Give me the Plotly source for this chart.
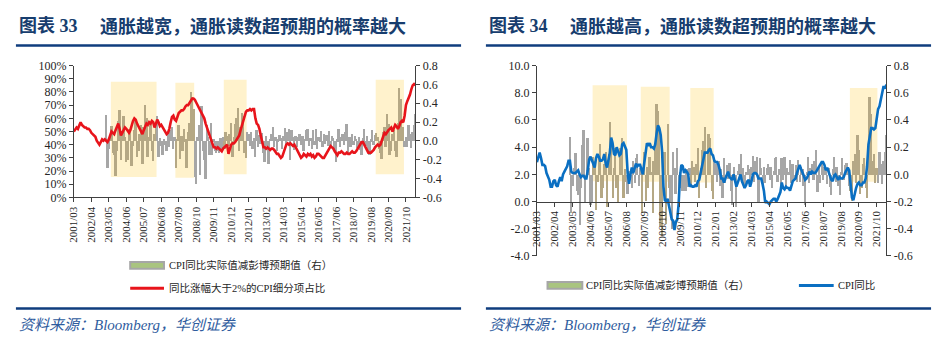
import plotly.graph_objects as go

W, H = 940, 352

# ---------------- categories ----------------
months = []
yy, mm = 2001, 3
for _ in range(255):
    months.append(f"{yy}/{mm:02d}")
    mm += 1
    if mm > 12:
        mm = 1
        yy += 1

tick_labels = ["2001/03", "2002/04", "2003/05", "2004/06", "2005/07", "2006/08", "2007/09",
               "2008/10", "2009/11", "2010/12", "2012/01", "2013/02", "2014/03", "2015/04",
               "2016/05", "2017/06", "2018/07", "2019/08", "2020/09", "2021/10"]

# ---------------- series ----------------
# share of CPI items with YoY > 2% (%), 2001/03 - 2022/05
red_share = [
    50, 52, 53, 52, 55, 57, 55, 54, 53, 53,                      # 2001 (Mar-Dec)
    52, 52, 51, 49, 48, 47, 46, 43, 41, 40, 42, 44,              # 2002
    43, 44, 43, 42, 44, 48, 50, 49, 48, 51, 54, 56,              # 2003
    52, 47, 49, 51, 53, 52, 50, 49, 51, 55, 58, 60,              # 2004
    59, 56, 54, 52, 49, 48, 51, 54, 56, 55, 57, 56,              # 2005
    58, 57, 53, 56, 59, 57, 54, 55, 53, 52, 50, 48,              # 2006
    49, 52, 57, 61, 62, 59, 58, 62, 64, 65, 66, 66,              # 2007
    67, 69, 70, 70, 72, 74, 75, 75, 74, 72, 70, 68,              # 2008
    66, 65, 63, 60, 56, 53, 49, 46, 43, 40, 38, 38,              # 2009
    37, 38, 37, 36, 35, 37, 38, 39, 40, 33, 37, 40,              # 2010
    41, 41, 42, 44, 45, 47, 51, 55, 58, 62, 65, 66,              # 2011
    66, 67, 66, 67, 67, 60, 56, 55, 52, 47, 42, 38,              # 2012
    38, 37, 38, 37, 36, 37, 37, 36, 34, 33, 33, 31,              # 2013
    30, 31, 34, 38, 40, 41, 40, 41, 40, 39, 40, 38,              # 2014
    36, 34, 31, 30, 31, 33, 32, 31, 33, 32, 33, 31,              # 2015
    32, 30, 31, 33, 33, 32, 31, 30, 30, 32, 34, 36,              # 2016
    38, 39, 38, 37, 35, 33, 32, 34, 34, 35, 34, 33,              # 2017
    33, 34, 33, 33, 34, 35, 34, 34, 35, 37, 38, 41,              # 2018
    42, 42, 40, 38, 35, 34, 34, 34, 35, 36, 38, 39,              # 2019
    40, 39, 40, 43, 47, 49, 48, 50, 51, 52, 53, 50,              # 2020
    52, 55, 54, 52, 54, 57, 58, 57, 62, 70, 73, 75,              # 2021
    78, 82, 85, 86, 85,                                          # 2022 (Jan-May)
]

# CPI YoY (%), 2001/03 - 2022/05
cpi_yoy = [
    2.9, 3.3, 3.6, 3.2, 2.7, 2.7, 2.6, 2.1, 1.9, 1.6,
    1.1, 1.1, 1.5, 1.6, 1.2, 1.1, 1.5, 1.8, 1.5, 2.0, 2.2, 2.4,
    2.6, 3.0, 3.0, 2.2, 2.1, 2.1, 2.1, 2.2, 2.3, 2.0, 1.8, 1.9,
    1.9, 1.7, 1.7, 2.3, 3.1, 3.3, 3.0, 2.7, 2.5, 3.2, 3.5, 3.3,
    3.0, 3.0, 3.1, 3.5, 2.8, 2.5, 3.2, 3.6, 4.7, 4.3, 3.5, 3.4,
    4.0, 3.6, 3.4, 3.5, 4.2, 4.3, 4.1, 3.8, 2.1, 1.3, 2.0, 2.5,
    2.1, 2.4, 2.8, 2.6, 2.7, 2.7, 2.4, 2.0, 2.8, 3.5, 4.3, 4.1,
    4.3, 4.0, 4.0, 3.9, 4.2, 5.0, 5.6, 5.4, 4.9, 3.7, 1.1, 0.1,
    0.0, 0.2, -0.4, -0.7, -1.3, -1.4, -2.1, -1.5, -1.3, -0.2, 1.8, 2.7,
    2.6, 2.1, 2.3, 2.2, 2.0, 1.1, 1.2, 1.1, 1.1, 1.2, 1.1, 1.5,
    1.6, 2.1, 2.7, 3.2, 3.6, 3.6, 3.6, 3.8, 3.9, 3.5, 3.4, 3.0,
    2.9, 2.9, 2.7, 2.3, 1.7, 1.7, 1.4, 1.7, 2.0, 2.2, 1.8, 1.7,
    1.6, 2.0, 1.5, 1.1, 1.4, 1.8, 2.0, 1.5, 1.2, 1.0, 1.2, 1.5,
    1.6, 1.1, 1.5, 2.0, 2.1, 2.1, 2.0, 1.7, 1.7, 1.7, 1.3, 0.8,
    -0.1, 0.0, -0.1, -0.2, 0.0, 0.1, 0.2, 0.2, 0.0, 0.2, 0.5, 0.7,
    1.4, 1.0, 0.9, 1.1, 1.0, 1.0, 0.8, 1.1, 1.5, 1.6, 1.7, 2.1,
    2.5, 2.7, 2.4, 2.2, 1.9, 1.6, 1.7, 1.9, 2.2, 2.0, 2.2, 2.1,
    2.1, 2.2, 2.4, 2.5, 2.8, 2.9, 2.9, 2.7, 2.3, 2.5, 2.2, 1.9,
    1.6, 1.5, 1.9, 2.0, 1.8, 1.6, 1.8, 1.7, 1.7, 1.8, 2.1, 2.3,
    2.5, 2.3, 1.5, 0.3, 0.1, 0.6, 1.0, 1.3, 1.4, 1.2, 1.2, 1.4,
    1.4, 1.7, 2.6, 4.2, 5.0, 5.4, 5.4, 5.3, 5.4, 6.2, 6.8, 7.0,
    7.5, 7.9, 8.5, 8.3, 8.6,
]

# CPI YoY actual minus Bloomberg consensus (pp), 2003/03 - 2022/05
surprise_start = "2003/03"
surprise = [
    0.28, -0.28, -0.08, 0.05, 0.16, -0.12, -0.15, -0.37, -0.10, 0.22,          # 2003
    0.33, -0.20, 0.10, 0.27, 0.05, -0.22, -0.20, 0.13, 0.10, -0.26, -0.05, 0.12,  # 2004
    0.23, -0.17, -0.10, 0.08, 0.17, -0.24, 0.15, 0.39, 0.25, -0.17, 0.05, 0.20,   # 2005
    -0.10, -0.21, 0.08, 0.20, 0.27, -0.17, 0.04, -0.05, -0.14, 0.03, -0.04, -0.10,  # 2006
    0.10, -0.06, 0.12, 0.15, -0.08, 0.05, -0.28, 0.03, 0.17, -0.19, 0.06, -0.10,  # 2007
    0.13, 0.02, -0.28, 0.10, 0.20, 0.52, 0.47, 0.34, -0.38, -0.45, 0.05, 0.17,    # 2008
    -0.36, 0.37, -0.10, -0.20, -0.40, 0.17, 0.05, -0.14, 0.20, -0.14, 0.02, -0.10,  # 2009
    -0.12, -0.10, -0.12, 0.04, -0.09, 0.05, -0.08, 0.10, 0.06, -0.05, 0.08, 0.20,  # 2010
    -0.17, 0.05, 0.18, 0.25, 0.35, -0.10, 0.15, 0.30, 0.27, -0.12, -0.18, 0.10,   # 2011
    0.08, -0.05, 0.10, -0.08, 0.04, -0.17, 0.12, -0.06, 0.07, -0.03, 0.09, -0.12,  # 2012
    -0.22, 0.06, -0.05, -0.24, 0.03, 0.08, 0.15, -0.06, 0.05, -0.10, 0.02, 0.07,  # 2013
    0.04, -0.08, 0.06, 0.14, -0.05, 0.10, 0.13, -0.20, 0.12, 0.05, -0.09, 0.06,   # 2014
    -0.06, 0.05, 0.08, -0.04, 0.06, -0.10, 0.03, 0.12, 0.13, -0.05, 0.04, -0.08,  # 2015
    0.12, -0.04, 0.13, -0.08, 0.05, 0.02, 0.11, -0.06, 0.08, -0.03, 0.07, -0.05,  # 2016
    0.11, -0.05, 0.06, 0.04, -0.08, -0.22, 0.02, 0.13, -0.06, 0.05, 0.08, -0.04,  # 2017
    0.10, 0.18, -0.13, 0.05, -0.06, 0.08, -0.04, 0.06, 0.03, -0.07, 0.05, -0.09,  # 2018
    -0.15, 0.04, 0.13, -0.05, 0.06, -0.08, -0.15, 0.02, 0.12, -0.04, 0.07, 0.09,  # 2019
    0.05, -0.08, -0.12, -0.19, 0.10, 0.15, -0.06, 0.29, 0.18, -0.14, -0.10, 0.08,  # 2020
    0.12, -0.10, -0.17, 0.20, 0.57, 0.45, 0.10, 0.15, -0.06, 0.05, -0.06, 0.17,   # 2021
    0.08, -0.07, 0.10, 0.17, 0.29,                                                # 2022
]

# highlighted periods: (first month, last month, low, high) in left-axis units
left_shades = [("2003/07", "2006/04", 15.5, 87.7), ("2007/07", "2008/08", 15.0, 87.0),
               ("2010/07", "2011/11", 17.5, 89.3), ("2019/12", "2021/08", 17.5, 89.3)]
right_shades = [("2004/08", "2006/08", 1.5, 8.55), ("2007/07", "2009/03", 1.45, 8.45),
                ("2010/07", "2011/11", 1.4, 8.35), ("2020/03", "2021/10", 1.45, 8.35)]

assert len(red_share) == len(months), len(red_share)
assert len(cpi_yoy) == len(months), len(cpi_yoy)

xi = list(range(len(months)))
s0 = months.index(surprise_start)
bar_x = list(range(s0, s0 + len(surprise)))
assert bar_x[-1] == len(months) - 1, len(surprise)
tickvals = [months.index(t) for t in tick_labels]

right_ticks = [-0.6, -0.4, -0.2, 0.0, 0.2, 0.4, 0.6, 0.8]
pct_ticks = list(range(0, 101, 10))
cpi_ticks = [-4, -2, 0, 2, 4, 6, 8, 10]


def px(x):
    return x / W


def py(y):
    return 1 - y / H


AX = "#404040"
TICKFONT = dict(family="Liberation Serif, Noto Sans CJK SC", size=12, color="#262626")
XTICKFONT = dict(family="Liberation Serif, Noto Sans CJK SC", size=11, color="#262626")
GRAY = "#A6A6A6"
TAN = "#B5A885"
SHADE = "#FFF2CC"


def bar_colors(shades):
    spans = [(months.index(a), months.index(b)) for a, b, _, _ in shades]
    return [TAN if any(a <= i <= b for a, b in spans) else GRAY for i in bar_x]


fig = go.Figure()
fig.add_trace(go.Bar(x=bar_x, y=surprise, xaxis="x", yaxis="y", width=1.45,
                     marker=dict(color=bar_colors(left_shades), line=dict(width=0))))
fig.add_trace(go.Scatter(x=xi, y=red_share, xaxis="x", yaxis="y2", mode="lines",
                         line=dict(color="#E8141B", width=2.6)))
fig.add_trace(go.Bar(x=bar_x, y=surprise, xaxis="x2", yaxis="y3", width=1.45,
                     marker=dict(color=bar_colors(right_shades), line=dict(width=0))))
fig.add_trace(go.Scatter(x=xi, y=cpi_yoy, xaxis="x2", yaxis="y4", mode="lines",
                         line=dict(color="#0A6FC2", width=2.6)))

shapes = []
for a, b, lo, hi in left_shades:
    shapes.append(dict(type="rect", xref="x", yref="y2", x0=months.index(a) - 0.5, x1=months.index(b) + 0.5,
                       y0=lo, y1=hi, fillcolor=SHADE, line=dict(width=0), layer="below"))
for a, b, lo, hi in right_shades:
    shapes.append(dict(type="rect", xref="x2", yref="y4", x0=months.index(a) - 0.5, x1=months.index(b) + 0.5,
                       y0=lo, y1=hi, fillcolor=SHADE, line=dict(width=0), layer="below"))

RULE = "#0F3D7E"
for x0, x1 in [(10, 458), (483, 931)]:
    shapes.append(dict(type="line", xref="paper", yref="paper", x0=px(x0), x1=px(x1), y0=py(40), y1=py(40),
                       line=dict(color=RULE, width=2.5)))
    shapes.append(dict(type="line", xref="paper", yref="paper", x0=px(x0), x1=px(x1), y0=py(314), y1=py(314),
                       line=dict(color=RULE, width=2.5)))

# legend swatches
def bar_swatch(x0, x1, yc):
    return dict(type="rect", xref="paper", yref="paper", x0=px(x0), x1=px(x1), y0=py(yc + 3.5), y1=py(yc - 3.5),
                fillcolor="#A9C47F", line=dict(color="#A6A6A6", width=2))


def line_swatch(x0, x1, yc, color):
    return dict(type="line", xref="paper", yref="paper", x0=px(x0), x1=px(x1), y0=py(yc), y1=py(yc),
                line=dict(color=color, width=3))


shapes += [bar_swatch(125, 159, 269), line_swatch(125, 159, 293, "#E8141B"),
           bar_swatch(545, 580, 290), line_swatch(798, 833, 290, "#0A6FC2")]

LEGFONT = dict(family="Liberation Serif, Noto Sans CJK SC", size=10.5, color="#262626")
TITLEFONT = dict(family="Liberation Serif, Noto Sans CJK SC", size=18, color="#173D6E")
SRCFONT = dict(family="Liberation Serif, Noto Sans CJK SC", size=15, color="#2F5C9E")


def ann(text, x, y, font, anchor="left"):
    return dict(text=text, x=px(x), y=py(y), xref="paper", yref="paper", xanchor=anchor, yanchor="middle",
                showarrow=False, font=font)


annotations = [
    ann("<b>图表 33</b>", 11, 20, TITLEFONT),
    ann("<b>通胀越宽，通胀读数超预期的概率越大</b>", 93, 20, TITLEFONT),
    ann("<b>图表 34</b>", 484, 20, TITLEFONT),
    ann("<b>通胀越高，通胀读数超预期的概率越大</b>", 566, 20, TITLEFONT),
    ann("CPI同比实际值减彭博预期值（右）", 162, 269, LEGFONT),
    ann("同比涨幅大于2%的CPI细分项占比", 162, 293, LEGFONT),
    ann("CPI同比实际值减彭博预期值（右）", 582, 290, LEGFONT),
    ann("CPI同比", 835, 290, LEGFONT),
    ann("<i>资料来源：Bloomberg，华创证券</i>", 11, 331, SRCFONT),
    ann("<i>资料来源：Bloomberg，华创证券</i>", 484, 331, SRCFONT),
]

common_axis = dict(showgrid=False, zeroline=False, showline=True, linecolor=AX, linewidth=1,
                   ticks="outside", ticklen=4, tickcolor=AX, tickwidth=1)

fig.update_layout(
    width=W, height=H, margin=dict(l=0, r=0, t=0, b=0),
    paper_bgcolor="white", plot_bgcolor="white", showlegend=False, bargap=0,
    shapes=shapes, annotations=annotations,
    xaxis=dict(domain=[px(68.3), px(412)], range=[0, len(months) - 1], anchor="y",
               tickmode="array", tickvals=tickvals, ticktext=tick_labels, tickangle=-90,
               tickfont=XTICKFONT, **common_axis),
    yaxis=dict(domain=[py(198.3), py(61)], range=[-0.6, 0.8], side="right", anchor="x",
               tickmode="array", tickvals=right_ticks, ticktext=[f"{v:.1f}" for v in right_ticks],
               tickfont=TICKFONT, **common_axis),
    yaxis2=dict(range=[0, 100], overlaying="y", side="left", anchor="x",
                tickmode="array", tickvals=pct_ticks, ticktext=[f"{v}%" for v in pct_ticks],
                tickfont=TICKFONT, **common_axis),
    xaxis2=dict(domain=[px(534.3), px(886)], range=[0, len(months) - 1], anchor="free", position=py(202.6),
                tickmode="array", tickvals=tickvals, ticktext=tick_labels, tickangle=-90,
                tickfont=XTICKFONT, **common_axis),
    yaxis3=dict(domain=[py(259.3), py(61)], range=[-0.6, 0.8], side="right", anchor="x2",
                tickmode="array", tickvals=right_ticks, ticktext=[f"{v:.1f}" for v in right_ticks],
                tickfont=TICKFONT, **common_axis),
    yaxis4=dict(range=[-4, 10], overlaying="y3", side="left", anchor="x2",
                tickmode="array", tickvals=cpi_ticks, ticktext=[f"{v:.1f}" for v in cpi_ticks],
                tickfont=TICKFONT, **common_axis),
)

fig.write_html("out.html")
